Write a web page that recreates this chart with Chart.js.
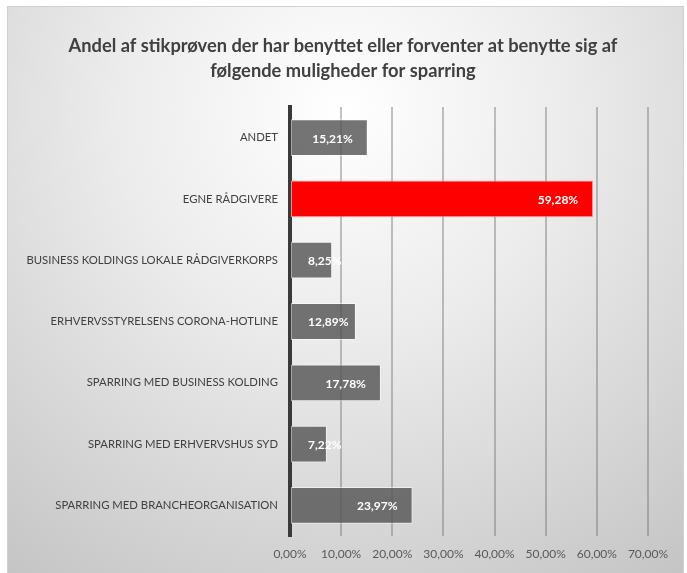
<!DOCTYPE html>
<html>
<head>
<meta charset="utf-8">
<script src="https://cdn.jsdelivr.net/npm/chart.js@4.4.1/dist/chart.umd.min.js"></script>
<style>
html,body{margin:0;padding:0;background:#fff;}
#wrap{position:absolute;left:0;top:0;width:687px;height:573px;}
</style>
</head>
<body>
<div id="wrap"><canvas id="c" width="687" height="573"></canvas></div>
<script>
const categories = [
  "ANDET",
  "EGNE RÅDGIVERE",
  "BUSINESS KOLDINGS LOKALE RÅDGIVERKORPS",
  "ERHVERVSSTYRELSENS CORONA-HOTLINE",
  "SPARRING MED BUSINESS KOLDING",
  "SPARRING MED ERHVERVSHUS SYD",
  "SPARRING MED BRANCHEORGANISATION"
];
const shareValues = [15.21, 59.28, 8.25, 12.89, 17.78, 7.22, 23.97];
const highlighted = [false, true, false, false, false, false, false];
const titleLines = [
  "Andel af stikprøven der har benyttet eller forventer at benytte sig af",
  "følgende muligheder for sparring"
];
const xTicks = [0, 10, 20, 30, 40, 50, 60, 70];

const FONT = "Lato, 'Open Sans', sans-serif";
const fmt = v => v.toFixed(2).replace('.', ',') + '%';

const bgPlugin = {
  id: 'bg',
  beforeDraw(chart) {
    const ctx = chart.ctx;
    ctx.save();
    const g = ctx.createRadialGradient(343, 110, 0, 343, 110, 640);
    g.addColorStop(0, '#ffffff');
    g.addColorStop(0.35, '#ececec');
    g.addColorStop(1, '#bdbdbd');
    ctx.fillStyle = g;
    ctx.fillRect(8, 7, 675, 566);
    ctx.strokeStyle = '#d0d0d0';
    ctx.lineWidth = 1;
    ctx.strokeRect(7.5, 6.5, 676, 570);
    // chart title
    ctx.font = "bold 18.3px " + FONT;
    ctx.fillStyle = '#404040';
    ctx.textAlign = 'center';
    ctx.textBaseline = 'middle';
    titleLines.forEach((t, i) => ctx.fillText(t, 343, 46 + i * 25));
    ctx.restore();
  }
};

const labelPlugin = {
  id: 'barLabels',
  afterDatasetsDraw(chart) {
    const ctx = chart.ctx;
    const meta = chart.getDatasetMeta(0);
    ctx.save();
    ctx.font = "bold 12px " + FONT;
    ctx.fillStyle = '#ffffff';
    ctx.textBaseline = 'middle';
    ctx.textAlign = 'left';
    meta.data.forEach((el, i) => {
      const t = fmt(shareValues[i]);
      const w = ctx.measureText(t).width;
      let left = el.x - 15 - w;
      const minLeft = el.base + 17;
      if (left < minLeft) left = minLeft;
      ctx.fillText(t, left, el.y + 1);
    });
    ctx.restore();
  }
};

new Chart(document.getElementById('c'), {
  type: 'bar',
  data: {
    labels: categories,
    datasets: [{
      data: shareValues,
      backgroundColor: highlighted.map(h => h ? '#ff0000' : 'rgba(85,85,85,0.82)'),
      borderColor: highlighted.map(h => h ? 'rgba(255,150,150,0.9)' : 'rgba(255,255,255,0.55)'),
      borderWidth: 1,
      borderSkipped: false,
      barPercentage: 0.6,
      categoryPercentage: 1.0
    }]
  },
  options: {
    indexAxis: 'y',
    responsive: false,
    animation: false,
    devicePixelRatio: 1,
    layout: { padding: { left: 0, right: 39, top: 107, bottom: 0 } },
    plugins: {
      legend: { display: false },
      tooltip: { enabled: false },
      title: { display: false }
    },
    scales: {
      x: {
        min: 0, max: 70,
        afterBuildTicks(scale) { scale.ticks = xTicks.map(v => ({ value: v })); },
        afterFit(scale) { scale.height = 37; },
        grid: { color: 'rgba(105,105,105,0.4)', lineWidth: 2, drawTicks: false },
        border: { display: false },
        ticks: {
          color: '#595959',
          padding: 11,
          font: { family: FONT, size: 12 },
          callback: v => fmt(v)
        }
      },
      y: {
        afterFit(scale) { scale.width = 290; },
        grid: { display: false, drawTicks: false },
        border: { display: true, color: '#3a3a3a', width: 4 },
        ticks: {
          color: '#404040',
          padding: 12,
          font: { family: FONT, size: 11.3 }
        }
      }
    }
  },
  plugins: [bgPlugin, labelPlugin]
});
</script>
</body>
</html>
